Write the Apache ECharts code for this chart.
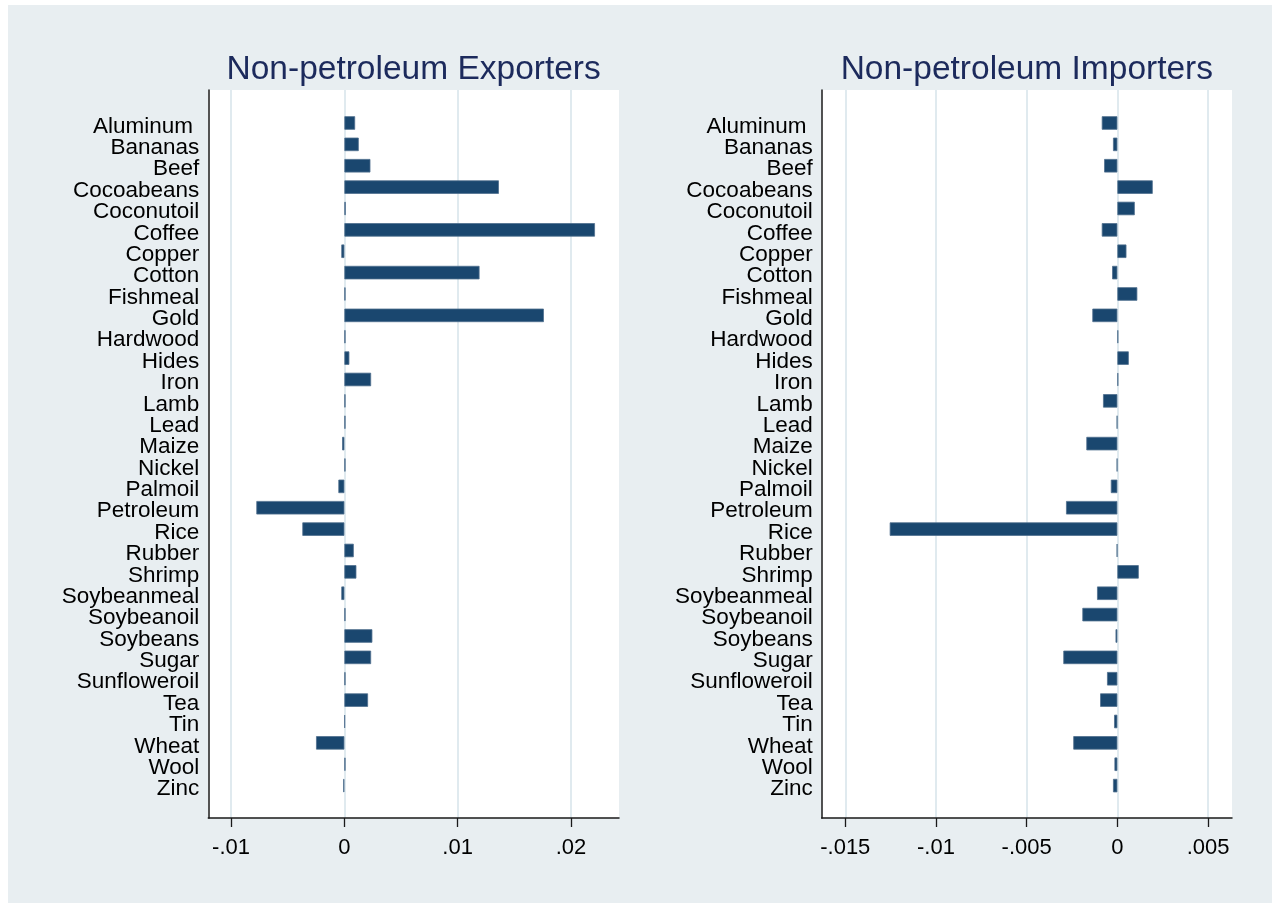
<!DOCTYPE html>
<html>
<head>
<meta charset="utf-8">
<script src="https://cdn.jsdelivr.net/npm/echarts@6/dist/echarts.min.js"></script>
<style>
  html, body { margin: 0; padding: 0; background: #ffffff; }
  #bg { position: absolute; left: 8px; top: 5px; width: 1264px; height: 898px; background: #e8eef1; }
  #chart { position: absolute; left: 0; top: 0; width: 1272px; height: 903px; }
</style>
</head>
<body>
<div id="bg"></div>
<div id="chart"></div>
<script>
// ---- data ----
const categories = ['Aluminum ', 'Bananas', 'Beef', 'Cocoabeans', 'Coconutoil', 'Coffee', 'Copper', 'Cotton',
  'Fishmeal', 'Gold', 'Hardwood', 'Hides', 'Iron', 'Lamb', 'Lead', 'Maize', 'Nickel', 'Palmoil',
  'Petroleum', 'Rice', 'Rubber', 'Shrimp', 'Soybeanmeal', 'Soybeanoil', 'Soybeans', 'Sugar',
  'Sunfloweroil', 'Tea', 'Tin', 'Wheat', 'Wool', 'Zinc'];

const exportersValues = [0.00095, 0.00127, 0.0023, 0.01364, 0.00012, 0.02212, -0.00027, 0.01193,
  0.0001, 0.01761, 0.0001, 0.00044, 0.00236, 0.0001, 0.0001, -0.0002, 0.0001, -0.00053,
  -0.00777, -0.00371, 0.00083, 0.00106, -0.00027, 0.0001, 0.00247, 0.00236,
  0.0001, 0.00209, 0.00005, -0.0025, 0.0001, -0.0001];

const importersValues = [-0.00086, -0.00024, -0.00073, 0.00195, 0.00096, -0.00086, 0.0005, -0.00029,
  0.0011, -0.00138, 0.00005, 0.00063, 0.00005, -0.00079, -0.00003, -0.00171, -0.00003, -0.00036,
  -0.00283, -0.01255, -0.00003, 0.00118, -0.00112, -0.00193, -0.0001, -0.00298,
  -0.00057, -0.00095, -0.00018, -0.00243, -0.00016, -0.00024];

const exportersTicks = [-0.01, 0, 0.01, 0.02];
const importersTicks = [-0.015, -0.01, -0.005, 0, 0.005];

const titles = ['Non-petroleum Exporters', 'Non-petroleum Importers'];

// ---- layout ----
const FONT = '"Liberation Sans", Arial, Helvetica, sans-serif';
const panels = [
  { left: 208.3, width: 410.7, min: -0.01201, max: 0.02424, ticks: exportersTicks, values: exportersValues, title: titles[0] },
  { left: 821.7, width: 410.3, min: -0.0163, max: 0.00632, ticks: importersTicks, values: importersValues, title: titles[1] }
];
const frameTop = 90, frameHeight = 728;
const barTop = 112.3, barHeight = 684;
const labelShift = 3.5;

function fmt(v) {
  if (v === 0) return '0';
  return String(+v.toFixed(4)).replace('0.', '.');
}

const grid = [], xAxis = [], yAxis = [], series = [], title = [];
panels.forEach((p, i) => {
  const fi = i * 3, bi = i * 3 + 1, li = i * 3 + 2;
  // frame grid
  grid.push({ left: p.left, top: frameTop, width: p.width, height: frameHeight,
    show: true, backgroundColor: '#ffffff', borderWidth: 0 });
  // bar grid
  grid.push({ left: p.left, top: barTop, width: p.width, height: barHeight, show: false });
  // label grid
  grid.push({ left: p.left, top: barTop + labelShift, width: p.width, height: barHeight, show: false });

  xAxis.push({
    gridIndex: fi, type: 'value', min: p.min, max: p.max,
    axisLine: { show: true, onZero: false, lineStyle: { color: '#1a1a1a', width: 1.5 } },
    axisTick: { show: true, customValues: p.ticks, length: 9, lineStyle: { color: '#1a1a1a', width: 1.3 } },
    axisLabel: { show: true, customValues: p.ticks, formatter: fmt, margin: 18.5,
      fontSize: 22, color: '#000', fontFamily: FONT },
    splitLine: { show: true, lineStyle: { color: '#dde8ee', width: 1.8 } }
  });
  yAxis.push({
    gridIndex: fi, type: 'value', min: 0, max: 1,
    axisLine: { show: true, onZero: false, lineStyle: { color: '#1a1a1a', width: 1.5 } },
    axisTick: { show: false }, axisLabel: { show: false }, splitLine: { show: false }
  });

  xAxis.push({ gridIndex: bi, type: 'value', min: p.min, max: p.max, show: false, splitLine: { show: false } });
  yAxis.push({
    gridIndex: bi, type: 'category', data: categories, inverse: true,
    axisLine: { show: false }, axisTick: { show: false }, splitLine: { show: false },
    axisLabel: { show: false }
  });

  xAxis.push({ gridIndex: li, type: 'value', min: p.min, max: p.max, show: false, splitLine: { show: false } });
  yAxis.push({
    gridIndex: li, type: 'category', data: categories, inverse: true,
    axisLine: { show: false }, axisTick: { show: false }, splitLine: { show: false },
    axisLabel: { show: true, interval: 0, margin: 9, fontSize: 22.5, color: '#000', fontFamily: FONT }
  });

  series.push({
    type: 'bar', xAxisIndex: bi, yAxisIndex: bi, data: p.values,
    barWidth: 13.5,
    itemStyle: { color: '#1a476f', borderColor: '#4f6f8e', borderWidth: 0.8 },
    silent: true, animation: false
  });
  title.push({
    text: p.title, left: p.left + p.width / 2, top: 53, textAlign: 'center', padding: 0,
    textStyle: { fontSize: 33.5, fontWeight: 'normal', color: '#1c2a5c', fontFamily: FONT, lineHeight: 33 }
  });
});

const chart = echarts.init(document.getElementById('chart'), null, { renderer: 'canvas' });
chart.setOption({
  backgroundColor: 'transparent',
  animation: false,
  title, grid, xAxis, yAxis, series
});
</script>
</body>
</html>
